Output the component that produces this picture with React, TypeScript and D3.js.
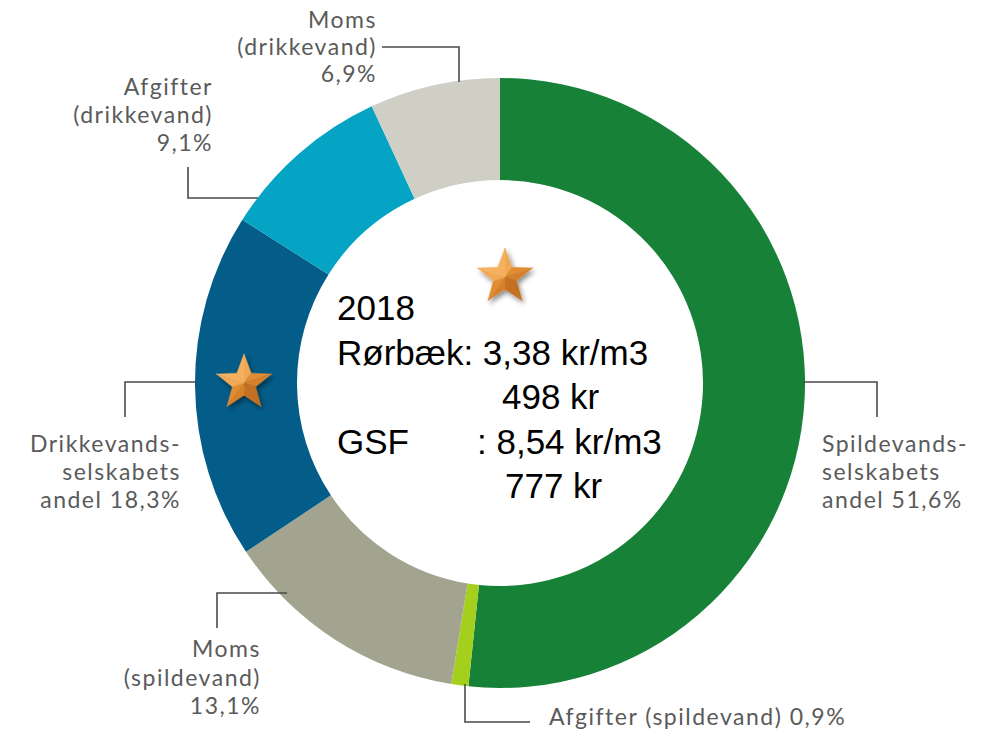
import React from "react";
import * as d3 from "d3";

const categories = [
  "Spildevandsselskabets andel",
  "Afgifter (spildevand)",
  "Moms (spildevand)",
  "Drikkevandsselskabets andel",
  "Afgifter (drikkevand)",
  "Moms (drikkevand)",
];
const values = [51.6, 0.9, 13.1, 18.3, 9.1, 6.9];
const colors = ["#178237", "#a5cf1d", "#a3a48f", "#045d88", "#05a4c4", "#cfcfc6"];

const labelLines: string[][] = [
  ["Spildevands-", "selskabets", "andel 51,6%"],
  ["Afgifter (spildevand) 0,9%"],
  ["Moms", "(spildevand)", "13,1%"],
  ["Drikkevands-", "selskabets", "andel 18,3%"],
  ["Afgifter", "(drikkevand)", "9,1%"],
  ["Moms", "(drikkevand)", "6,9%"],
];

const centerLines = [
  { left: "2018", right: "" },
  { left: "Rørbæk: 3,38 kr/m3", right: "" },
  { left: "", right: "498 kr" },
  { left: "GSF", right: ": 8,54 kr/m3" },
  { left: "", right: "777 kr" },
];
const centerRightX = [0, 0, 502, 477, 505];

// layout (positions of annotation labels)
const labelLayout = [
  { x: 822, y: 452, anchor: "start", dy: 28, leader: [[803, 382], [877, 382], [877, 417]] },
  { x: 549, y: 725, anchor: "start", dy: 28, leader: [[465, 684], [465, 722], [530, 722]] },
  { x: 261, y: 657, anchor: "end", dy: 28.5, leader: [[287, 593], [217, 593], [217, 628]] },
  { x: 181, y: 452, anchor: "end", dy: 28, leader: [[197, 382], [125, 382], [125, 417]] },
  { x: 213, y: 95, anchor: "end", dy: 28, leader: [[258, 198], [188, 198], [188, 167]] },
  { x: 377, y: 28, anchor: "end", dy: 27, leader: [[382, 47], [459, 47], [459, 82]] },
];

const W = 992;
const H = 731;
const cx = 500;
const cy = 383;
const outerR = 305;
const innerR = 203;

const stars = [
  { x: 505, y: 277, r: 29 },
  { x: 244, y: 383, r: 29 },
];

function starFacets(r: number) {
  const ri = r * 0.42;
  const pts: [number, number][] = [];
  for (let i = 0; i < 10; i++) {
    const rr = i % 2 === 0 ? r : ri;
    const a = (Math.PI / 5) * i - Math.PI / 2;
    pts.push([rr * Math.cos(a), rr * Math.sin(a)]);
  }
  const facets: { d: string; shade: number }[] = [];
  const light = [-0.6, -0.8];
  for (let i = 0; i < 10; i++) {
    const p1 = pts[i];
    const p2 = pts[(i + 1) % 10];
    const mx = (p1[0] + p2[0]) / 2;
    const my = (p1[1] + p2[1]) / 2;
    const len = Math.hypot(mx, my) || 1;
    const shade = (mx / len) * light[0] + (my / len) * light[1];
    facets.push({ d: `M0,0L${p1[0]},${p1[1]}L${p2[0]},${p2[1]}Z`, shade });
  }
  return facets;
}

const shadeScale = d3
  .scaleLinear<string>()
  .domain([-1, 0, 1])
  .range(["#c46f22", "#e69035", "#f6b463"]);

export default function App() {
  const pie = d3
    .pie<number>()
    .sort(null)
    .value((d) => d)
    .startAngle(0)
    .endAngle(2 * Math.PI);
  const arcs = pie(values);
  const arc = d3.arc<d3.PieArcDatum<number>>().innerRadius(innerR).outerRadius(outerR);
  const line = d3.line();

  return (
    <svg
      width={W}
      height={H}
      style={{ position: "absolute", left: 0, top: 0, background: "#fff" }}
    >
      <defs>
        <filter id="starShadow" x="-50%" y="-50%" width="200%" height="200%">
          <feDropShadow dx="2" dy="3" stdDeviation="2.5" floodColor="#000" floodOpacity="0.45" />
        </filter>
      </defs>
      <g transform={`translate(${cx},${cy})`}>
        {arcs.map((a, i) => (
          <path key={categories[i]} d={arc(a) || ""} fill={colors[i]} />
        ))}
      </g>
      {labelLayout.map((l, i) => (
        <g key={"lab" + i}>
          <path
            d={line(l.leader as [number, number][]) || ""}
            fill="none"
            stroke="#4a4a4a"
            strokeWidth={1.6}
          />
          <text
            x={l.x}
            y={l.y}
            textAnchor={l.anchor}
            fontFamily="Lato, 'Open Sans', sans-serif"
            fontSize={23}
            letterSpacing={1.5}
            fill="#5a5a5a"
          >
            {labelLines[i].map((t, j) => (
              <tspan key={j} x={l.x} y={l.y + j * l.dy}>
                {t}
              </tspan>
            ))}
          </text>
        </g>
      ))}
      <g fontFamily="Arial, 'Liberation Sans', sans-serif" fontSize={35} fill="#000">
        {centerLines.map((c, i) => {
          const y = 320 + i * 44.5;
          return (
            <g key={"c" + i}>
              {c.left && (
                <text x={337} y={y}>
                  {c.left}
                </text>
              )}
              {c.right && (
                <text x={centerRightX[i]} y={y}>
                  {c.right}
                </text>
              )}
            </g>
          );
        })}
      </g>
      {stars.map((s, i) => (
        <g key={"s" + i} transform={`translate(${s.x},${s.y})`} filter="url(#starShadow)">
          {starFacets(s.r).map((f, j) => (
            <path key={j} d={f.d} fill={shadeScale(f.shade)} stroke={shadeScale(f.shade)} strokeWidth={0.4} />
          ))}
        </g>
      ))}
    </svg>
  );
}
